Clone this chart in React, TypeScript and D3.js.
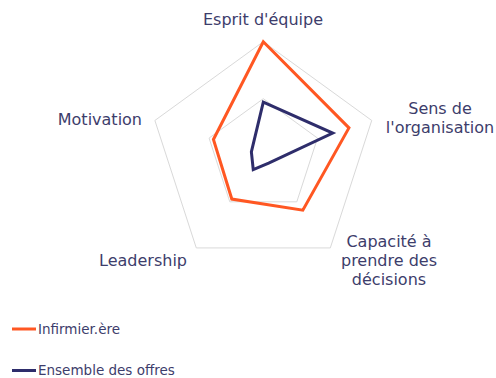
import React from "react";
import * as d3 from "d3";

const axes = [
  ["Esprit d'équipe"],
  ["Sens de", "l'organisation"],
  ["Capacité à", "prendre des", "décisions"],
  ["Leadership"],
  ["Motivation"],
];
const seriesNames = ["Infirmier.ère", "Ensemble des offres"];
const infirmier = [100, 79, 59, 47, 46];
const ensemble = [47, 64, 8, 15, 11];
const gridLevels = [50, 100];
const colors = ["#ff5722", "#2e2d6b"];

const W = 496, H = 378;
const cx = 263.3, cy = 155.7, R = 114;
const textColor = "#3d3d6b";
const font = "'DejaVu Sans', sans-serif";

export default function App() {
  const r = d3.scaleLinear().domain([0, 100]).range([0, R]);
  const angle = (i: number) => (i * 2 * Math.PI) / axes.length;
  const line = d3
    .lineRadial<number>()
    .angle((_, i) => angle(i))
    .radius((d) => r(d))
    .curve(d3.curveLinearClosed);

  const labelPos = [
    { x: 263, y: 24.5, anchor: "middle" },
    { x: 440, y: 113.5, anchor: "middle" },
    { x: 389, y: 246.5, anchor: "middle" },
    { x: 187, y: 265.5, anchor: "end" },
    { x: 142, y: 124.5, anchor: "end" },
  ];

  return (
    <svg width={W} height={H} style={{ position: "absolute", left: 0, top: 0 }}>
      <g transform={`translate(${cx},${cy})`}>
        {gridLevels.map((lv) => (
          <path
            key={lv}
            d={line(axes.map(() => lv)) || ""}
            fill="none"
            stroke="#d9d9d9"
            strokeWidth={1}
          />
        ))}
        {[infirmier, ensemble].map((s, k) => (
          <path
            key={k}
            d={line(s) || ""}
            fill="none"
            stroke={colors[k]}
            strokeWidth={3}
            strokeLinejoin="miter"
          />
        ))}
      </g>
      {axes.map((lines, i) => (
        <text
          key={i}
          x={labelPos[i].x}
          y={labelPos[i].y}
          textAnchor={labelPos[i].anchor as any}
          fontFamily={font}
          fontSize={16}
          fill={textColor}
        >
          {lines.map((t, j) => (
            <tspan key={j} x={labelPos[i].x} dy={j === 0 ? 0 : 19}>
              {t}
            </tspan>
          ))}
        </text>
      ))}
      {seriesNames.map((n, k) => (
        <g key={n} transform={`translate(0,${329 + k * 41.5})`}>
          <line x1={12} x2={36} y1={0} y2={0} stroke={colors[k]} strokeWidth={3} />
          <text x={38} y={4.5} fontFamily={font} fontSize={13.5} fill={textColor}>
            {n}
          </text>
        </g>
      ))}
    </svg>
  );
}
